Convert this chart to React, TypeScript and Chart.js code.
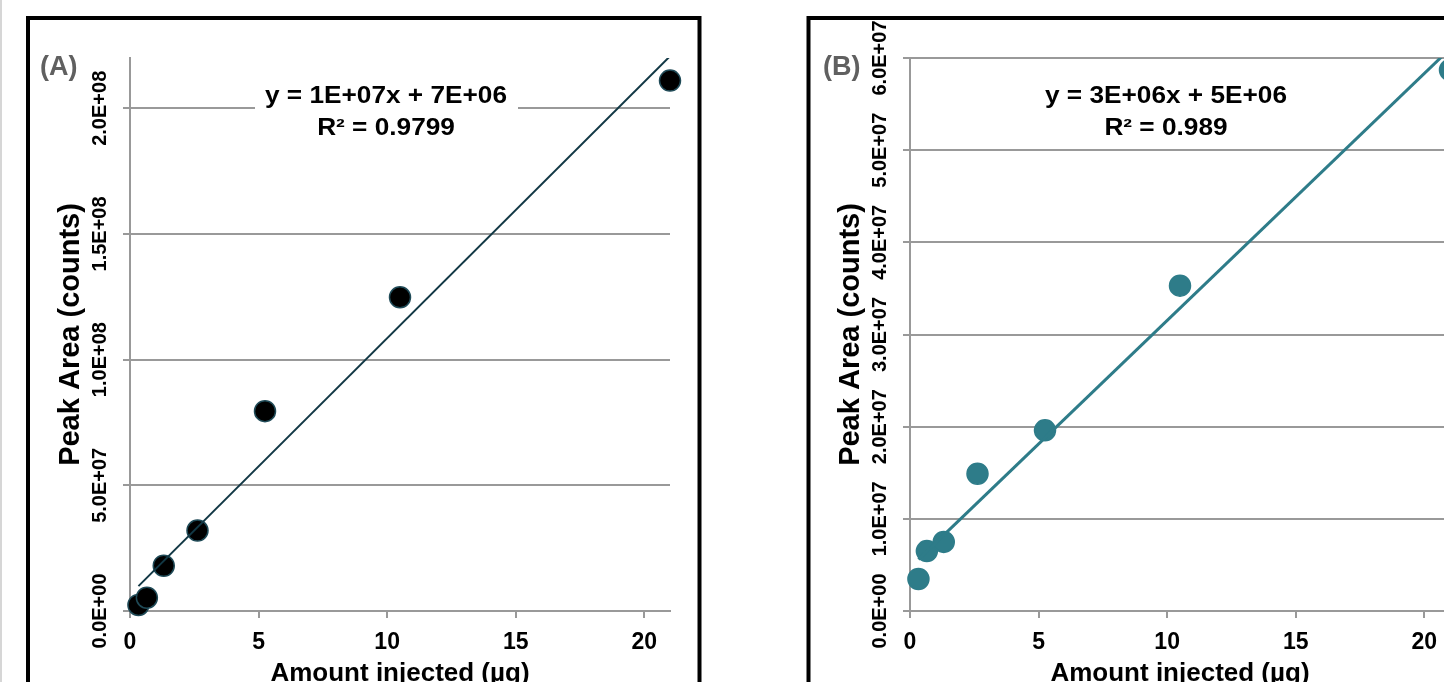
import React, { useEffect, useRef } from "react";
import { Chart, registerables } from "chart.js";

Chart.register(...registerables);

// ---------- data ----------
const amountsA = [0.328, 0.656, 1.3125, 2.625, 5.25, 10.5, 21];
const peakAreasA = [2.4e6, 5.3e6, 1.8e7, 3.2e7, 7.95e7, 1.248e8, 2.11e8];
const trendAmountsA = [0.328, 21];
const trendAreasA = [9.9e6, 2.207e8];

const amountsB = [0.328, 0.656, 1.3125, 2.625, 5.25, 10.5, 21];
const peakAreasB = [3.47e6, 6.5e6, 7.5e6, 1.49e7, 1.96e7, 3.53e7, 5.87e7];
const trendAmountsB = [0.328, 21];
const trendAreasB = [5.6e6, 6.1e7];

const xTickValues = [0, 5, 10, 15, 20];
const xTickLabels = ["0", "5", "10", "15", "20"];

const yTickValuesA = [0, 5e7, 1e8, 1.5e8, 2e8];
const yTickLabelsA = ["0.0E+00", "5.0E+07", "1.0E+08", "1.5E+08", "2.0E+08"];
const yTickValuesB = [0, 1e7, 2e7, 3e7, 4e7, 5e7, 6e7];
const yTickLabelsB = ["0.0E+00", "1.0E+07", "2.0E+07", "3.0E+07", "4.0E+07", "5.0E+07", "6.0E+07"];

const equationA = ["y = 1E+07x + 7E+06", "R\u00B2 = 0.9799"];
const equationB = ["y = 3E+06x + 5E+06", "R\u00B2 = 0.989"];

const xTitle = "Amount injected (\u00B5g)";
const yTitle = "Peak Area (counts)";
const panelLabelA = "(A)";
const panelLabelB = "(B)";

// ---------- styling ----------
const FONT = '"Liberation Sans", Arial, Helvetica, sans-serif';
const GRID = "#999999";
const H = 682;

type PanelProps = {
  left: number;
  width: number;
  yAxisWidth: number;
  padRight: number;
  xs: number[];
  ys: number[];
  tx: number[];
  ty: number[];
  yMax: number;
  yTicks: number[];
  yLabels: string[];
  equation: string[];
  label: string;
  labelX: number;
  pointFill: string;
  pointBorder: string;
  lineColor: string;
  lineWidth: number;
  border: { x: number; y: number; w: number; h: number };
  leftEdgeLine: boolean;
};

function rotText(ctx: CanvasRenderingContext2D, text: string, x: number, y: number, font: string) {
  ctx.save();
  ctx.translate(x, y);
  ctx.rotate(-Math.PI / 2);
  ctx.font = font;
  ctx.textAlign = "center";
  ctx.textBaseline = "alphabetic";
  ctx.fillText(text, 0, 0);
  ctx.restore();
}

function Panel(p: PanelProps) {
  const ref = useRef<HTMLCanvasElement | null>(null);

  useEffect(() => {
    if (!ref.current) return;
    const decor = {
      id: "decor",
      beforeDatasetsDraw(chart: any) {
        const { ctx, chartArea: ca } = chart;
        const cx = (ca.left + ca.right) / 2 - 14;
        ctx.save();
        ctx.fillStyle = "#ffffff";
        ctx.fillRect(cx - 131, 78, 263, 66);
        ctx.restore();
      },
      afterDraw(chart: any) {
        const { ctx, chartArea: ca, scales } = chart;
        const xs = scales.x;
        const ys = scales.y;
        ctx.save();
        ctx.fillStyle = "#000000";
        // y tick labels
        p.yTicks.forEach((v, i) => {
          rotText(ctx, p.yLabels[i], ca.left - 24, ys.getPixelForValue(v), `bold 20px ${FONT}`);
        });
        // y title
        rotText(ctx, yTitle, ca.left - 51, (ca.top + ca.bottom) / 2, `bold 29px ${FONT}`);
        // x tick labels
        ctx.font = `bold 23px ${FONT}`;
        ctx.textAlign = "center";
        ctx.textBaseline = "alphabetic";
        xTickValues.forEach((v, i) => {
          ctx.fillText(xTickLabels[i], xs.getPixelForValue(v), ca.bottom + 37.5);
        });
        // x title
        ctx.font = `bold 26px ${FONT}`;
        ctx.fillText(xTitle, (ca.left + ca.right) / 2, ca.bottom + 70);
        // equation
        const cx = (ca.left + ca.right) / 2 - 14;
        ctx.font = `bold 23px ${FONT}`;
        [103, 135].forEach((base, i) => {
          ctx.save();
          ctx.translate(cx, base);
          ctx.scale(1.14, 1);
          ctx.fillText(p.equation[i], 0, 0);
          ctx.restore();
        });
        // panel label
        ctx.fillStyle = "#606060";
        ctx.font = `bold 27px ${FONT}`;
        ctx.textAlign = "left";
        ctx.fillText(p.label, p.labelX, 75);
        // panel border
        ctx.strokeStyle = "#000000";
        ctx.lineWidth = 4;
        ctx.strokeRect(p.border.x, p.border.y, p.border.w, p.border.h);
        if (p.leftEdgeLine) {
          ctx.fillStyle = "#d6d6d6";
          ctx.fillRect(0, 0, 2, H);
        }
        ctx.restore();
      },
    };

    const chart = new Chart(ref.current, {
      type: "scatter",
      data: {
        datasets: [
          {
            data: p.tx.map((x, i) => ({ x, y: p.ty[i] })),
            showLine: true,
            borderColor: p.lineColor,
            borderWidth: p.lineWidth,
            pointRadius: 0,
            clip: 0,
            order: 0,
          } as any,
          {
            data: p.xs.map((x, i) => ({ x, y: p.ys[i] })),
            showLine: false,
            backgroundColor: p.pointFill,
            borderColor: p.pointBorder,
            pointRadius: 10.5,
            pointBorderWidth: 1.5,
            pointBackgroundColor: p.pointFill,
            pointBorderColor: p.pointBorder,
            clip: false,
            order: 1,
          } as any,
        ],
      },
      options: {
        animation: false,
        responsive: false,
        events: [],
        layout: { padding: { left: 0, right: p.padRight, top: 58, bottom: 0 } },
        plugins: {
          legend: { display: false },
          tooltip: { enabled: false },
          title: { display: false },
        },
        scales: {
          x: {
            type: "linear",
            position: "bottom",
            min: 0,
            max: 21,
            afterBuildTicks: (s: any) => {
              s.ticks = xTickValues.map((v) => ({ value: v }));
            },
            afterFit: (s: any) => {
              s.height = H - 611;
            },
            ticks: { display: false },
            grid: {
              drawOnChartArea: false,
              drawTicks: true,
              tickLength: 7,
              color: GRID,
              lineWidth: 2,
            },
            border: { display: true, color: GRID, width: 2 },
          },
          y: {
            type: "linear",
            position: "left",
            min: 0,
            max: p.yMax,
            afterBuildTicks: (s: any) => {
              s.ticks = p.yTicks.map((v) => ({ value: v }));
            },
            afterFit: (s: any) => {
              s.width = p.yAxisWidth;
            },
            ticks: { display: false },
            grid: {
              drawOnChartArea: true,
              drawTicks: true,
              tickLength: 7,
              color: GRID,
              lineWidth: 2,
            },
            border: { display: true, color: GRID, width: 2 },
          },
        },
      } as any,
      plugins: [decor],
    });
    return () => chart.destroy();
  }, []);

  return (
    <canvas
      ref={ref}
      width={p.width}
      height={H}
      style={{ position: "absolute", left: p.left, top: 0, width: p.width, height: H, display: "block" }}
    />
  );
}

export default function App() {
  return (
    <div
      style={{
        position: "fixed",
        left: 0,
        top: 0,
        width: 1444,
        height: H,
        overflow: "hidden",
        background: "#ffffff",
      }}
    >
      <Panel
        left={0}
        width={740}
        yAxisWidth={130}
        padRight={70}
        xs={amountsA}
        ys={peakAreasA}
        tx={trendAmountsA}
        ty={trendAreasA}
        yMax={2.2e8}
        yTicks={yTickValuesA}
        yLabels={yTickLabelsA}
        equation={equationA}
        label={panelLabelA}
        labelX={40}
        pointFill="#000000"
        pointBorder="#1f4a57"
        lineColor="#123845"
        lineWidth={2}
        border={{ x: 28, y: 18, w: 671.5, h: 800 }}
        leftEdgeLine={true}
      />
      <Panel
        left={740}
        width={760}
        yAxisWidth={170}
        padRight={50}
        xs={amountsB}
        ys={peakAreasB}
        tx={trendAmountsB}
        ty={trendAreasB}
        yMax={6e7}
        yTicks={yTickValuesB}
        yLabels={yTickLabelsB}
        equation={equationB}
        label={panelLabelB}
        labelX={83}
        pointFill="#2e7c89"
        pointBorder="#2e7c89"
        lineColor="#2e7c89"
        lineWidth={3}
        border={{ x: 68.5, y: 18, w: 700, h: 800 }}
        leftEdgeLine={false}
      />
    </div>
  );
}
